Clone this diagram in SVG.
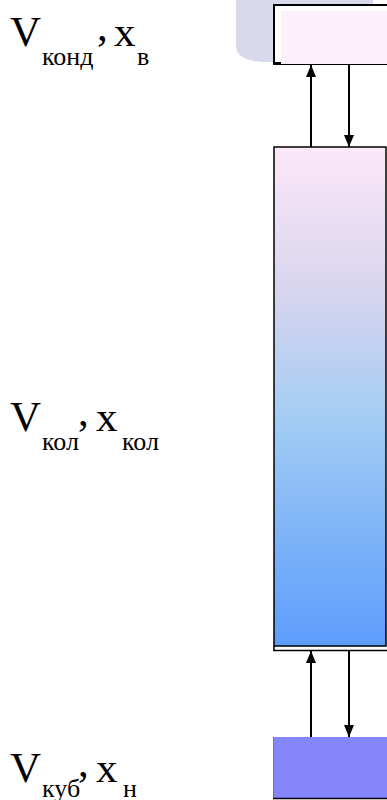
<svg xmlns="http://www.w3.org/2000/svg" width="387" height="800" viewBox="0 0 387 800">
  <style>
    .lbl { font-family: "Liberation Serif", "Times New Roman", serif; fill: #000; }
    .big { font-size: 43px; }
    .sub { font-size: 26px; }
    .conn { stroke: #000; stroke-width: 2; fill: none; marker-end: url(#arr); }
    .edge { stroke: #000; stroke-width: 1.5; fill: none; }
  </style>
  <defs>
    <marker id="arr" markerUnits="userSpaceOnUse" markerWidth="12" markerHeight="10" refX="12" refY="5" orient="auto">
      <path d="M0,0 L12,5 L0,10 Z" fill="#000"/>
    </marker>
    <linearGradient id="colGrad" x1="0" y1="0" x2="0" y2="1">
      <stop offset="0" stop-color="#fce8f8"/>
      <stop offset="0.3" stop-color="#d6d4ee"/>
      <stop offset="0.55" stop-color="#a2ccf4"/>
      <stop offset="1" stop-color="#5c9cfc"/>
    </linearGradient>
  </defs>

  <!-- background decoration -->
  <path d="M236,0 H373 V62 H262 Q236,60 236,46 Z" fill="#d9d9ec"/>

  <g id="condenser">
    <rect x="274" y="5" width="120" height="58" fill="#ffffff" stroke="#000" stroke-width="2"/>
    <rect x="281" y="11" width="110" height="53" fill="#fdf0fc"/>
    <line x1="273" y1="64.5" x2="387" y2="64.5" stroke="#000" stroke-width="1"/>
  </g>

  <g id="column">
    <rect x="274" y="147" width="112" height="499" fill="url(#colGrad)" stroke="#000" stroke-width="1.5"/>
    <line x1="273" y1="650.5" x2="387" y2="650.5" class="edge"/>
    <line x1="274" y1="646" x2="274" y2="651" class="edge"/>
  </g>

  <g id="cube">
    <rect x="273" y="737" width="115" height="61" fill="#8686fc"/>
    <line x1="273.5" y1="737" x2="273.5" y2="798" stroke="#777" stroke-width="1"/>
    <line x1="273" y1="798.5" x2="387" y2="798.5" stroke="#000" stroke-width="1.5"/>
  </g>

  <g id="connectors">
    <line x1="311" y1="147" x2="311" y2="65" class="conn"/>
    <line x1="349" y1="65" x2="349" y2="147" class="conn"/>
    <line x1="311" y1="737" x2="311" y2="651" class="conn"/>
    <line x1="349" y1="651" x2="349" y2="737" class="conn"/>
  </g>

  <g id="label-condenser">
    <text class="lbl"><tspan class="big" x="10" y="46">V</tspan><tspan class="sub" x="42" y="65">конд</tspan><tspan class="big" x="97" y="40">,</tspan><tspan class="big" x="114" y="46">x</tspan><tspan class="sub" x="137" y="65">в</tspan></text>
  </g>

  <g id="label-column">
    <text class="lbl"><tspan class="big" x="10" y="431">V</tspan><tspan class="sub" x="42" y="450">кол</tspan><tspan class="big" x="78" y="425">,</tspan><tspan class="big" x="96" y="431">x</tspan><tspan class="sub" x="122" y="450">кол</tspan></text>
  </g>

  <g id="label-cube">
    <text class="lbl"><tspan class="big" x="10" y="782">V</tspan><tspan class="sub" x="42" y="797">куб</tspan><tspan class="big" x="78" y="776">,</tspan><tspan class="big" x="96" y="782">x</tspan><tspan class="sub" x="123" y="797">н</tspan></text>
  </g>
</svg>
